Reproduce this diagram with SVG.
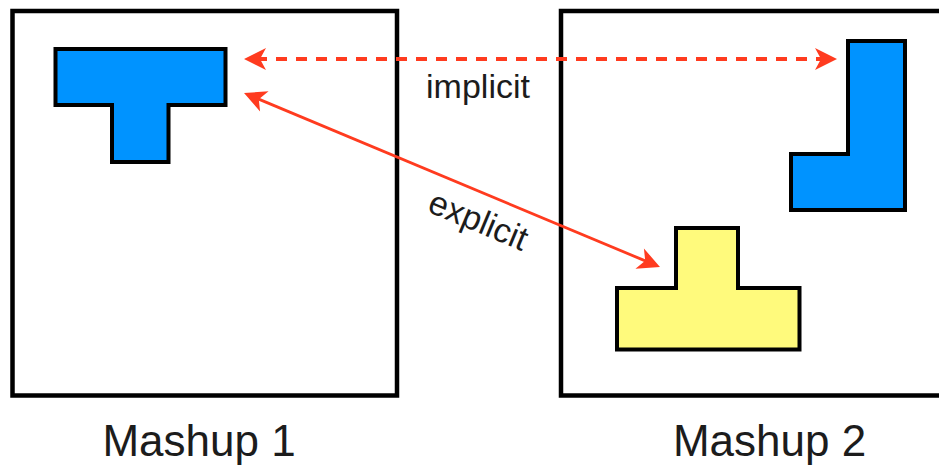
<svg xmlns="http://www.w3.org/2000/svg" width="939" height="468" viewBox="0 0 939 468">
  <style>
    .frame { fill: #ffffff; stroke: #000000; stroke-width: 4.5; }
    .piece { stroke: #000000; stroke-width: 4; stroke-linejoin: miter; }
    .blue { fill: #0093ff; }
    .yellow { fill: #fffa7c; }
    .link { fill: none; stroke: #ff3b1f; }
    .dashed { stroke-width: 4; stroke-dasharray: 11 9; }
    .solid { stroke-width: 2.8; }
    .label { font-family: "Liberation Sans", Arial, Helvetica, sans-serif; fill: #1c1c1c; }
    .caption { font-size: 44px; text-anchor: middle; }
    .tag { font-size: 34px; text-anchor: middle; }
  </style>
  <defs>
    <marker id="head" markerUnits="userSpaceOnUse" markerWidth="40" markerHeight="40"
            viewBox="-20 -20 40 40" refX="0" refY="0" orient="auto-start-reverse" overflow="visible">
      <path d="M12,0 L-10,-11 L-4,0 L-10,11 Z" fill="#ff3b1f"/>
    </marker>
  </defs>

  <rect width="939" height="468" fill="#ffffff"/>

  <!-- first mashup -->
  <g id="mashup1">
    <rect class="frame" x="12.5" y="11" width="384.5" height="384.5"/>
    <path class="piece blue" d="M55.5,49 H225.5 V105 H168.5 V162 H112 V105 H55.5 Z"/>
    <text class="label caption" x="199" y="456">Mashup 1</text>
  </g>

  <!-- second mashup -->
  <g id="mashup2">
    <rect class="frame" x="561" y="11" width="400" height="384.5"/>
    <path class="piece blue" d="M848,41 H905 V210 H791 V154 H848 Z"/>
    <path class="piece yellow" d="M676,228 H738 V288 H799.5 V349.5 H617 V288 H676 Z"/>
    <text class="label caption" x="769.5" y="456">Mashup 2</text>
  </g>

  <!-- connectors -->
  <g id="connectors">
    <line class="link dashed" x1="256" y1="59" x2="825" y2="59" marker-start="url(#head)" marker-end="url(#head)"/>
    <text class="label tag" x="478" y="97.5">implicit</text>
    <line class="link solid" x1="255.1" y1="97.6" x2="648.9" y2="262.4" marker-start="url(#head)" marker-end="url(#head)"/>
    <text class="label tag" transform="translate(474,231) rotate(22.7)" x="0" y="0">explicit</text>
  </g>
</svg>
